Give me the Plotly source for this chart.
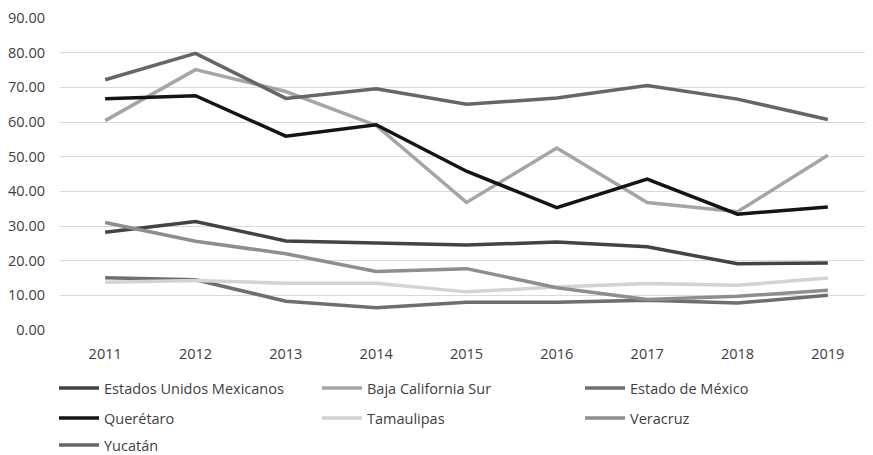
import plotly.graph_objects as go

years = ["2011", "2012", "2013", "2014", "2015", "2016", "2017", "2018", "2019"]
y_ticks = [0, 10, 20, 30, 40, 50, 60, 70, 80, 90]
y_tick_labels = ["0.00", "10.00", "20.00", "30.00", "40.00", "50.00", "60.00", "70.00", "80.00", "90.00"]

eum = [28.2, 31.3, 25.7, 25.0, 24.5, 25.4, 24.0, 19.1, 19.3]
bcs = [60.4, 75.1, 68.8, 59.0, 36.8, 52.5, 36.8, 34.1, 50.4]
edomex = [15.1, 14.5, 8.3, 6.4, 8.0, 8.0, 8.6, 7.8, 10.0]
queretaro = [66.7, 67.6, 55.9, 59.2, 45.8, 35.3, 43.5, 33.4, 35.5]
tamaulipas = [13.8, 14.3, 13.5, 13.5, 11.0, 12.4, 13.4, 12.9, 15.0]
veracruz = [31.0, 25.6, 22.0, 16.9, 17.7, 12.2, 8.8, 9.7, 11.5]
yucatan = [72.2, 79.8, 66.8, 69.6, 65.1, 66.9, 70.5, 66.6, 60.7]

series = [
    ("Estados Unidos Mexicanos", eum, "#434343", "legend"),
    ("Baja California Sur", bcs, "#a5a5a5", "legend"),
    ("Estado de México", edomex, "#6e6e6e", "legend"),
    ("Querétaro", queretaro, "#141414", "legend2"),
    ("Tamaulipas", tamaulipas, "#d3d3d3", "legend2"),
    ("Veracruz", veracruz, "#8e8e8e", "legend2"),
    ("Yucatán", yucatan, "#666666", "legend3"),
]

# the page body adds an 8px offset, so the figure is 8px smaller and everything is shifted
W, H = 865, 447

fig = go.Figure()
for name, vals, color, lg in series:
    fig.add_trace(go.Scatter(
        x=years, y=vals, name=name, mode="lines",
        line=dict(color=color, width=3.5),
        legend=lg,
    ))

font_family = "Open Sans, sans-serif"
legend_font = dict(family=font_family, size=14.5, color="#404040")
common_legend = dict(
    orientation="h", xanchor="left", yanchor="middle", x=46 / W,
    xref="container", yref="container",
    font=legend_font, entrywidth=208, entrywidthmode="pixels",
    itemwidth=40, bgcolor="rgba(0,0,0,0)", traceorder="normal",
)

fig.update_layout(
    width=W, height=H,
    margin=dict(l=52, r=0, t=10, b=125),
    plot_bgcolor="white", paper_bgcolor="white",
    showlegend=True,
    legend=dict(common_legend, y=1 - 380 / H),
    legend2=dict(common_legend, y=1 - 410 / H),
    legend3=dict(common_legend, y=1 - 437 / H),
    xaxis=dict(
        type="category", range=[-0.5, 8.5], automargin=False,
        showgrid=False, showline=False, zeroline=False,
        ticks="", ticklen=0, ticklabelstandoff=13,
        tickfont=dict(family=font_family, size=14.5, color="#404040"),
    ),
    yaxis=dict(
        range=[0, 90], tickvals=y_ticks, ticktext=y_tick_labels, automargin=False,
        showgrid=True, gridcolor="#d9d9d9", gridwidth=1,
        zeroline=False, showline=False, ticks="", ticklabelstandoff=14,
        ticklabeloverflow="allow",
        tickfont=dict(family=font_family, size=14.5, color="#404040"),
    ),
)

fig.write_html("out.html")
